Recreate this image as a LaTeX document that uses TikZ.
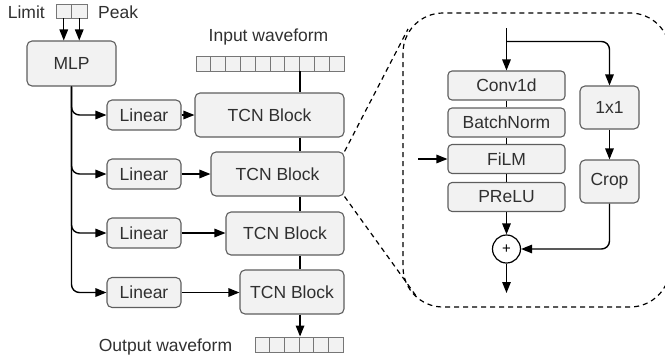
\documentclass[tikz,border=0pt]{standalone}
\usepackage{fontspec}
\setmainfont{Liberation Sans}
\usetikzlibrary{arrows.meta}
\definecolor{boxfill}{HTML}{F2F2F2}
\definecolor{boxline}{HTML}{5E5E5E}
\definecolor{txt}{HTML}{303030}
\begin{document}
\begin{tikzpicture}[x=1pt,y=-1pt,
  every node/.style={font=\fontsize{17.5}{21}\selectfont, text=txt},
  blk/.style={draw=boxline, fill=boxfill, line width=1.1pt, rounded corners=5pt, inner sep=0pt},
  cell/.style={draw=boxline!85, fill=boxfill, line width=0.9pt, inner sep=0pt, minimum height=15pt},
  conn/.style={line width=1.4pt, black},
  arr/.style={conn, -{Triangle[length=11pt,width=8.5pt]}},
  lbl/.style={inner sep=0pt},
  zoomline/.style={dash pattern=on 5pt off 4pt, line width=1.2pt, black}
]
\useasboundingbox (0,0) rectangle (665,360);

% condition inputs
\node[cell, minimum width=15.5pt, minimum height=14pt] (lim) at (63.75,11) {};
\node[cell, minimum width=15.5pt, minimum height=14pt] (pk) at (79.25,11) {};
\node[lbl, anchor=base east] (limt) at (45,18) {Limit};
\node[lbl, anchor=base west] (pkt) at (98,18) {Peak};
\node[blk, minimum width=89pt, minimum height=45pt] (mlp) at (71.5,63.5) {MLP};
\draw[arr] (lim.south) -- (lim.south |- mlp.north);
\draw[arr] (pk.south) -- (pk.south |- mlp.north);

% input waveform
\node[lbl, anchor=base] (inlbl) at (268.5,41) {Input waveform};
\foreach \i in {0,...,9} \node[cell, minimum width=14.8pt] (in\i) at ({203.4+14.8*\i},63.5) {};

% TCN blocks
\node[blk, minimum width=149pt, minimum height=44pt] (t1) at (269.5,115) {TCN Block};
\node[blk, minimum width=133pt, minimum height=44pt] (t2) at (277.5,174) {TCN Block};
\node[blk, minimum width=118pt, minimum height=43pt] (t3) at (285,233.5) {TCN Block};
\node[blk, minimum width=104pt, minimum height=44pt] (t4) at (292,292) {TCN Block};

% output waveform
\foreach \i in {0,...,5} \node[cell, minimum width=14.67pt] (out\i) at ({262.33+14.67*\i},344.5) {};
\node[lbl, anchor=base] (outlbl) at (165.5,351) {Output waveform};

% spine
\draw[conn] (in6.south east) -- (in6.south east |- t1.north);
\draw[conn] (in6.south east |- t1.south) -- (in6.south east |- t2.north);
\draw[conn] (in6.south east |- t2.south) -- (in6.south east |- t3.north);
\draw[conn] (in6.south east |- t3.south) -- (in6.south east |- t4.north);
\draw[arr] (in6.south east |- t4.south) -- (in6.south east |- out2.north);

% linear layers
\node[blk, minimum width=74pt, minimum height=30pt] (l1) at (144,115) {Linear};
\node[blk, minimum width=74pt, minimum height=30pt] (l2) at (144,174) {Linear};
\node[blk, minimum width=74pt, minimum height=30pt] (l3) at (144,233) {Linear};
\node[blk, minimum width=74pt, minimum height=30pt] (l4) at (144,292.5) {Linear};
\foreach \a/\b in {l1/t1,l2/t2,l3/t3,l4/t4}
  \draw[arr] (\a.east) -- (\a.east -| \b.west);
\foreach \a in {l1,l2,l3,l4}
  \draw[arr, rounded corners=8pt] (mlp.south) |- (\a.west);

% zoom box
\draw[zoomline, rounded corners=40pt] (403,13) rectangle (670,307);
\coordinate (zt) at (408,29);
\coordinate (zb) at (417.3,297.6);
\draw[zoomline] (t2.north east) -- (zt);
\draw[zoomline] (t2.south east) -- (zb);

% inner block
\node[blk, minimum width=117pt, minimum height=29pt, rounded corners=4pt] (conv) at (506.5,85.5) {Conv1d};
\node[blk, minimum width=117pt, minimum height=29pt, rounded corners=4pt] (bn) at (506.5,122.5) {BatchNorm};
\node[blk, minimum width=117pt, minimum height=29pt, rounded corners=4pt] (film) at (506.5,159) {FiLM};
\node[blk, minimum width=117pt, minimum height=29pt, rounded corners=4pt] (prelu) at (506.5,197) {PReLU};
\node[blk, minimum width=59pt, minimum height=43pt] (one) at (609.5,107.5) {1x1};
\node[blk, minimum width=59pt, minimum height=43pt] (crop) at (609.5,181.5) {Crop};
\node[circle, draw=black, fill=white, line width=1.2pt, minimum size=28pt, inner sep=0pt,
      font=\fontsize{15}{15}\selectfont, text=black] (sum) at (506.5,249) {+};
\coordinate (tin) at (506.5,28);
\coordinate (br) at (506.5,41.5);
\coordinate (fin) at (418,159);
\coordinate (sout) at (506.5,293);
\draw[arr] (tin) -- (conv.north);
\draw[arr, rounded corners=8pt] (br) -| (one.north);
\draw[conn] (conv.south) -- (bn.north);
\draw[conn] (bn.south) -- (film.north);
\draw[conn] (film.south) -- (prelu.north);
\draw[arr] (fin) -- (film.west);
\draw[arr] (prelu.south) -- (sum.north);
\draw[arr] (one.south) -- (crop.north);
\draw[arr, rounded corners=8pt] (crop.south) |- (sum.east);
\draw[arr] (sum.south) -- (sout);
\end{tikzpicture}
\end{document}
